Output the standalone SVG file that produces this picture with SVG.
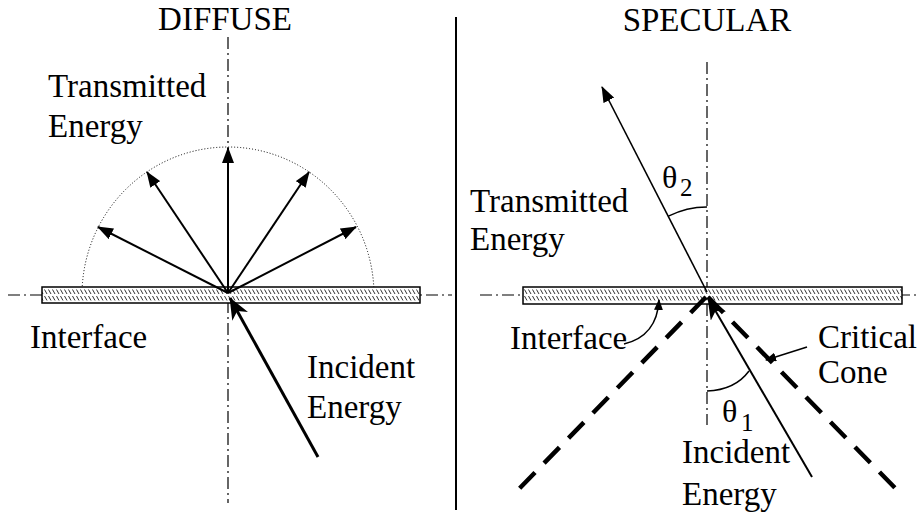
<svg xmlns="http://www.w3.org/2000/svg" width="919" height="516" viewBox="0 0 919 516">
<style>
text{font-family:"Liberation Serif","Times New Roman",serif;font-size:33px;fill:#000}
.th{font-size:32px}
.sub{font-size:25px}
.axis{stroke:#000;stroke-width:1.2;stroke-dasharray:12 4 2 4;fill:none}
.bar{fill:url(#hatch);stroke:#000;stroke-width:1.5}
.ray{stroke:#000;stroke-width:2;fill:none}
.thin{stroke:#000;stroke-width:1.6;fill:none}
.inc{stroke:#000;stroke-width:3;fill:none}
.cone{stroke:#000;stroke-width:4.5;stroke-dasharray:22 13;fill:none}
.arc{stroke:#000;stroke-width:1.5;fill:none}
</style>
<defs>
<pattern id="hatch" x="0" y="287" width="4" height="16" patternUnits="userSpaceOnUse">
<rect width="4" height="16" fill="#fff"/>
<path d="M0.5,2.5 L3,7 M0.5,9 L3,13.5" stroke="#333" stroke-width="1"/>
</pattern>
<marker id="ah" viewBox="0 0 16 12" refX="15" refY="6" markerWidth="16" markerHeight="12" markerUnits="userSpaceOnUse" orient="auto">
<path d="M0,0 L16,6 L0,12 z" fill="#000"/>
</marker>
<marker id="big" viewBox="0 0 22 18" refX="21" refY="9" markerWidth="22" markerHeight="18" markerUnits="userSpaceOnUse" orient="auto">
<path d="M0,0 L22,9 L0,18 L6,9 z" fill="#000"/>
</marker>
<marker id="sm" viewBox="0 0 11 9" refX="10" refY="4.5" markerWidth="11" markerHeight="9" markerUnits="userSpaceOnUse" orient="auto">
<path d="M0,0 L11,4.5 L0,9 z" fill="#000"/>
</marker>
</defs>
<rect width="919" height="516" fill="#fff"/>

<line id="divider" x1="456" y1="17" x2="456" y2="510" stroke="#000" stroke-width="2"/>

<g id="diffuse">
<text x="225" y="30" text-anchor="middle">DIFFUSE</text>
<line class="axis" x1="8" y1="295" x2="452" y2="295"/>
<line class="axis" x1="228" y1="37" x2="228" y2="503"/>
<path d="M82,295 A146,148 0 0 1 374,295" fill="none" stroke="#000" stroke-width="1" stroke-dasharray="1 2"/>
<g id="diffuse-interface"><rect class="bar" x="42" y="287" width="378" height="16"/></g>
<text x="48" y="97">Transmitted</text>
<text x="48" y="137">Energy</text>
<text x="30" y="348">Interface</text>
<text x="307" y="378">Incident</text>
<text x="307" y="418">Energy</text>
</g>

<g id="specular">
<text x="707" y="31" text-anchor="middle">SPECULAR</text>
<line class="axis" x1="480" y1="295" x2="919" y2="295"/>
<line class="axis" x1="707" y1="62" x2="707" y2="425"/>
<g id="specular-interface"><rect class="bar" x="523" y="287" width="379" height="17"/></g>
<text x="470" y="212">Transmitted</text>
<text x="470" y="250">Energy</text>
<text x="510" y="349">Interface</text>
<text x="818" y="348">Critical</text>
<text x="818" y="383">Cone</text>
<text class="th" x="662" y="188">θ</text><text class="sub" x="680" y="196">2</text>
<text class="th" x="722" y="422">θ</text><text class="sub" x="741" y="431">1</text>
<text x="682" y="463">Incident</text>
<text x="682" y="505">Energy</text>
</g>

<g id="connectors">
<line class="ray" x1="228" y1="293" x2="228" y2="148" marker-end="url(#ah)"/>
<line class="ray" x1="228" y1="293" x2="147" y2="172" marker-end="url(#ah)"/>
<line class="ray" x1="228" y1="293" x2="98" y2="227" marker-end="url(#ah)"/>
<line class="ray" x1="228" y1="293" x2="309" y2="172" marker-end="url(#ah)"/>
<line class="ray" x1="228" y1="293" x2="356" y2="227" marker-end="url(#ah)"/>
<line class="inc" x1="318" y1="457" x2="230" y2="298" marker-end="url(#big)"/>

<line class="cone" x1="706" y1="297" x2="516" y2="492"/>
<line class="cone" x1="708" y1="297" x2="900" y2="493"/>
<line class="thin" x1="707" y1="292" x2="602" y2="87" marker-end="url(#ah)"/>
<line class="ray" x1="812" y1="477" x2="708" y2="298" marker-end="url(#big)"/>
<path class="arc" d="M707,207 A85,85 0 0 0 668.4,216.2"/>
<path class="arc" d="M707,391 Q735,390 749,371"/>
<line class="arc" x1="807" y1="347" x2="766" y2="360" marker-end="url(#sm)"/>
<path class="arc" d="M624,344 Q657,336 659,300" marker-end="url(#sm)"/>
</g>
</svg>
